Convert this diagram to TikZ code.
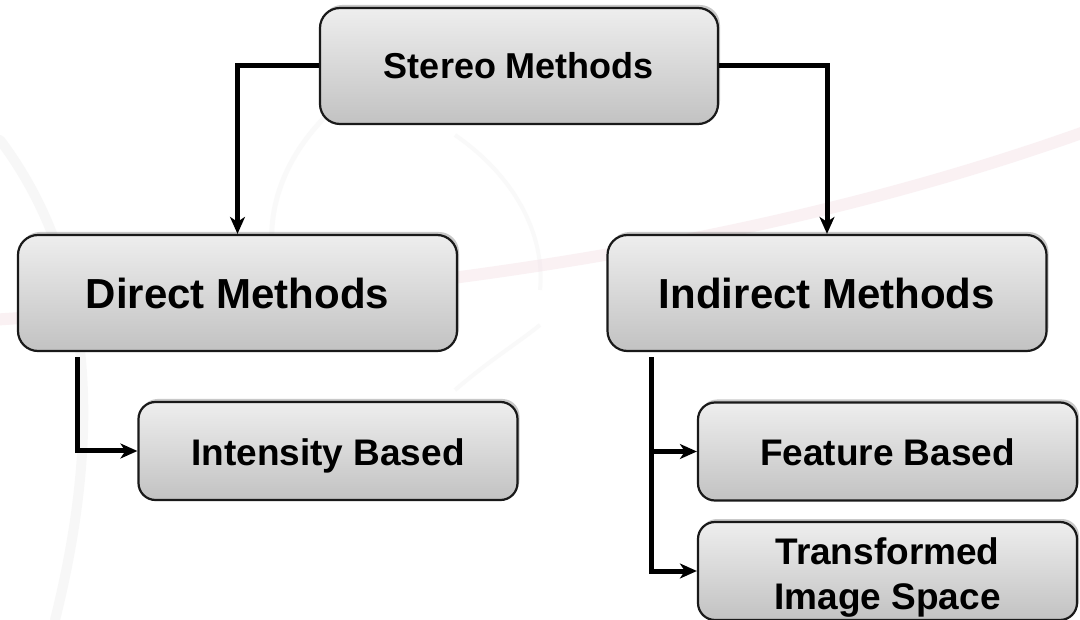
\documentclass[tikz,border=0pt]{standalone}
\usepackage{fontspec}
\setmainfont{Liberation Sans}
\usetikzlibrary{arrows.meta,shadows}
\definecolor{boxtop}{HTML}{EEEEEE}
\definecolor{boxbot}{HTML}{C2C2C2}
\definecolor{swoosh}{HTML}{F4E0E6}
\definecolor{ring}{HTML}{EEEEEE}
\tikzset{
  methodbox/.style={draw=black!90, line width=2.2pt, rounded corners=20pt,
    top color=boxtop, bottom color=boxbot, align=center,
    font=\bfseries, inner sep=0pt,
    drop shadow={opacity=0.35, shadow xshift=2pt, shadow yshift=3pt, fill=black!60}},
  bigbox/.style={methodbox, minimum width=439pt, minimum height=116pt, font=\fontsize{42}{48}\selectfont\bfseries},
  topbox/.style={methodbox, minimum width=398pt, minimum height=116pt, font=\fontsize{36}{44}\selectfont\bfseries},
  smallbox/.style={methodbox, rounded corners=17pt, minimum width=379pt, minimum height=98pt, font=\fontsize{37}{45}\selectfont\bfseries},
  lowtext/.style={text height=33pt, text depth=4pt},
  link/.style={draw=black, line width=5pt, -{Stealth[length=17pt,width=15pt,inset=5pt]}},
  trunk/.style={draw=black, line width=5pt},
}
\begin{document}
\begin{tikzpicture}[x=1pt,y=-1pt]
\useasboundingbox (0,0) rectangle (1080,620);
\fill[white] (0,0) rectangle (1080,620);

% faint decorative swirls behind the chart
\draw[ring, line width=10pt, opacity=0.45, line cap=round]
  (0,140) .. controls (90,260) and (105,420) .. (55,620);
\draw[ring, line width=5pt, opacity=0.35]
  (330,112) .. controls (270,170) and (250,250) .. (300,330);
\draw[ring, line width=4pt, opacity=0.35]
  (455,135) .. controls (520,180) and (545,240) .. (540,290);
\draw[ring, line width=4pt, opacity=0.35]
  (455,390) .. controls (490,360) and (515,345) .. (540,325);
\draw[swoosh, line width=12pt, opacity=0.45, line cap=round]
  (-10,320) .. controls (300,300) and (700,270) .. (1090,130);

% nodes
\node[topbox]   (stereo)    at (519,66)    {Stereo Methods};
\node[bigbox]   (direct)    at (237.5,293) {Direct Methods};
\node[bigbox]   (indirect)  at (827,293)   {Indirect Methods};
\node[smallbox, lowtext] (intensity) at (328,451)   {Intensity Based};
\node[smallbox, lowtext] (feature)   at (887.5,451.5) {Feature Based};
\node[smallbox, text height=76pt, text depth=0pt] (transf) at (887.5,571) {Transformed\\Image Space};

% connectors
\draw[link] (stereo.west) -| (direct.north);
\draw[link] (stereo.east) -| (indirect.north);
\draw[link, shorten <=5pt] ([xshift=61pt]direct.south west) |- (intensity.west);
\draw[trunk, shorten <=5pt] ([xshift=45pt]indirect.south west) |- ([xshift=-45pt]transf.west);
\draw[link] ([xshift=45pt]indirect.south west |- feature.west) -- (feature.west);
\draw[link] ([xshift=45pt]indirect.south west |- transf.west) -- (transf.west);
\end{tikzpicture}
\end{document}
